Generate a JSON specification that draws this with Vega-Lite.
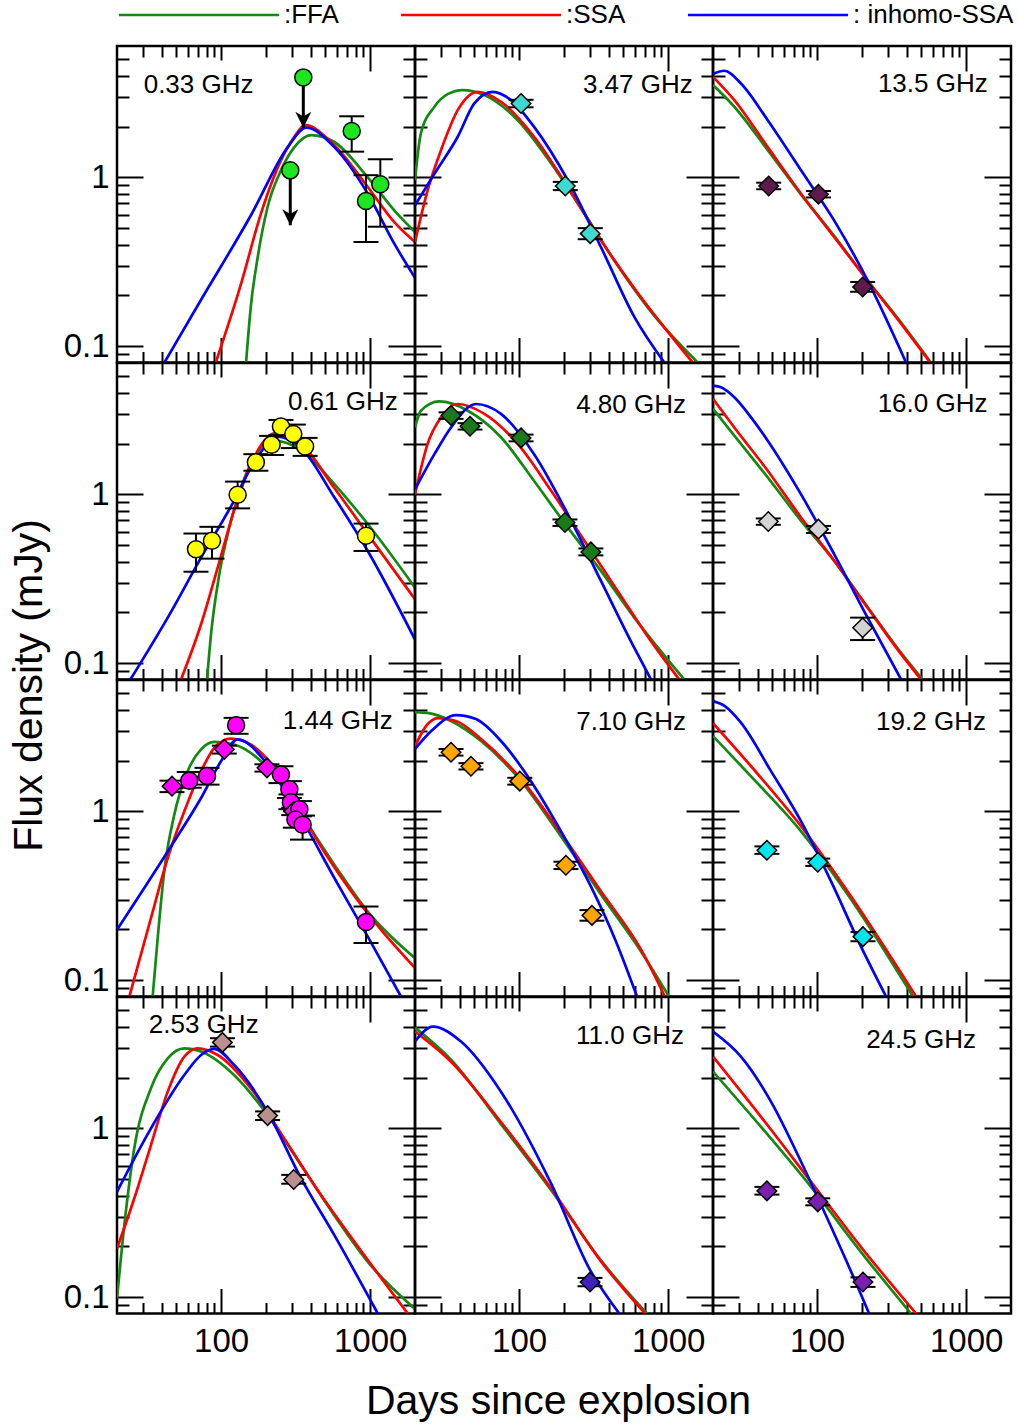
{
"$schema":"https://vega.github.io/schema/vega-lite/v6.json",
"background":"white",
"padding":{"left":6,"top":0,"right":0,"bottom":0},
"columns":3,
"spacing":0,
"bounds":"flush",
"config":{
 "view":{"stroke":"black","strokeWidth":2.5},
 "font":"Liberation Sans",
 "axis":{"domain":false,"grid":false,"ticks":true,"tickColor":"black","tickWidth":2,"labelFont":"Liberation Sans","labelFontSize":33,"labelColor":"black","labelFlush":false,"labelOverlap":false,"labelBound":false,"titleFont":"Liberation Sans","titleFontSize":41,"titleFontWeight":"normal","titleColor":"black"}
},
"datasets":{
"curves":[
{"p":"0.33","m":"FFA","t":147,"f":0.08},{"p":"0.33","m":"FFA","t":158,"f":0.17},{"p":"0.33","m":"FFA","t":176,"f":0.337},{"p":"0.33","m":"FFA","t":205,"f":0.667},{"p":"0.33","m":"FFA","t":252,"f":1.1},{"p":"0.33","m":"FFA","t":310,"f":1.51},{"p":"0.33","m":"FFA","t":401,"f":1.78},{"p":"0.33","m":"FFA","t":575,"f":1.62},{"p":"0.33","m":"FFA","t":964,"f":1.0},{"p":"0.33","m":"FFA","t":1452,"f":0.638},{"p":"0.33","m":"FFA","t":2000,"f":0.474},
{"p":"0.33","m":"SSA","t":92,"f":0.08},{"p":"0.33","m":"SSA","t":136,"f":0.234},{"p":"0.33","m":"SSA","t":185,"f":0.61},{"p":"0.33","m":"SSA","t":252,"f":1.26},{"p":"0.33","m":"SSA","t":310,"f":1.74},{"p":"0.33","m":"SSA","t":366,"f":2.04},{"p":"0.33","m":"SSA","t":575,"f":1.55},{"p":"0.33","m":"SSA","t":964,"f":0.877},{"p":"0.33","m":"SSA","t":1452,"f":0.543},{"p":"0.33","m":"SSA","t":2000,"f":0.414},
{"p":"0.33","m":"inhomo-SSA","t":41.6,"f":0.08},{"p":"0.33","m":"inhomo-SSA","t":73,"f":0.187},{"p":"0.33","m":"inhomo-SSA","t":158.5,"f":0.596},{"p":"0.33","m":"inhomo-SSA","t":280,"f":1.51},{"p":"0.33","m":"inhomo-SSA","t":371,"f":1.97},{"p":"0.33","m":"inhomo-SSA","t":575,"f":1.51},{"p":"0.33","m":"inhomo-SSA","t":964,"f":0.8},{"p":"0.33","m":"inhomo-SSA","t":1452,"f":0.405},{"p":"0.33","m":"inhomo-SSA","t":2000,"f":0.254},
{"p":"0.61","m":"FFA","t":80.4,"f":0.08},{"p":"0.61","m":"FFA","t":85.5,"f":0.148},{"p":"0.61","m":"FFA","t":97.2,"f":0.336},{"p":"0.61","m":"FFA","t":113.5,"f":0.636},{"p":"0.61","m":"FFA","t":136,"f":1.1},{"p":"0.61","m":"FFA","t":167,"f":1.66},{"p":"0.61","m":"FFA","t":222,"f":2.08},{"p":"0.61","m":"FFA","t":344,"f":1.83},{"p":"0.61","m":"FFA","t":575,"f":1.15},{"p":"0.61","m":"FFA","t":964,"f":0.667},{"p":"0.61","m":"FFA","t":2000,"f":0.28},
{"p":"0.61","m":"SSA","t":53.8,"f":0.08},{"p":"0.61","m":"SSA","t":73.3,"f":0.17},{"p":"0.61","m":"SSA","t":94.8,"f":0.368},{"p":"0.61","m":"SSA","t":122,"f":0.8},{"p":"0.61","m":"SSA","t":158.5,"f":1.51},{"p":"0.61","m":"SSA","t":195,"f":2.08},{"p":"0.61","m":"SSA","t":227,"f":2.3},{"p":"0.61","m":"SSA","t":344,"f":1.99},{"p":"0.61","m":"SSA","t":575,"f":1.09},{"p":"0.61","m":"SSA","t":964,"f":0.581},{"p":"0.61","m":"SSA","t":2000,"f":0.239},
{"p":"0.61","m":"inhomo-SSA","t":24.6,"f":0.08},{"p":"0.61","m":"inhomo-SSA","t":43.8,"f":0.186},{"p":"0.61","m":"inhomo-SSA","t":73.3,"f":0.422},{"p":"0.61","m":"inhomo-SSA","t":122,"f":0.916},{"p":"0.61","m":"inhomo-SSA","t":158.5,"f":1.44},{"p":"0.61","m":"inhomo-SSA","t":205,"f":1.99},{"p":"0.61","m":"inhomo-SSA","t":240,"f":2.2},{"p":"0.61","m":"inhomo-SSA","t":344,"f":1.88},{"p":"0.61","m":"inhomo-SSA","t":575,"f":0.96},{"p":"0.61","m":"inhomo-SSA","t":964,"f":0.462},{"p":"0.61","m":"inhomo-SSA","t":2000,"f":0.138},
{"p":"1.44","m":"FFA","t":34.7,"f":0.08},{"p":"1.44","m":"FFA","t":37.5,"f":0.177},{"p":"1.44","m":"FFA","t":41.5,"f":0.441},{"p":"1.44","m":"FFA","t":48.5,"f":0.957},{"p":"1.44","m":"FFA","t":59.6,"f":1.73},{"p":"1.44","m":"FFA","t":73.3,"f":2.33},{"p":"1.44","m":"FFA","t":90,"f":2.58},{"p":"1.44","m":"FFA","t":122,"f":2.49},{"p":"1.44","m":"FFA","t":205,"f":1.81},{"p":"1.44","m":"FFA","t":344,"f":0.957},{"p":"1.44","m":"FFA","t":575,"f":0.483},{"p":"1.44","m":"FFA","t":964,"f":0.255},{"p":"1.44","m":"FFA","t":2000,"f":0.135},
{"p":"1.44","m":"SSA","t":24.2,"f":0.08},{"p":"1.44","m":"SSA","t":33.8,"f":0.233},{"p":"1.44","m":"SSA","t":43.8,"f":0.529},{"p":"1.44","m":"SSA","t":56.6,"f":1.0},{"p":"1.44","m":"SSA","t":73.3,"f":1.73},{"p":"1.44","m":"SSA","t":90,"f":2.38},{"p":"1.44","m":"SSA","t":116,"f":2.7},{"p":"1.44","m":"SSA","t":158,"f":2.49},{"p":"1.44","m":"SSA","t":265,"f":1.51},{"p":"1.44","m":"SSA","t":445,"f":0.665},{"p":"1.44","m":"SSA","t":744,"f":0.336},{"p":"1.44","m":"SSA","t":2000,"f":0.118},
{"p":"1.44","m":"inhomo-SSA","t":20,"f":0.199},{"p":"1.44","m":"inhomo-SSA","t":43.8,"f":0.579},{"p":"1.44","m":"inhomo-SSA","t":73.3,"f":1.2},{"p":"1.44","m":"inhomo-SSA","t":99.8,"f":1.98},{"p":"1.44","m":"inhomo-SSA","t":129,"f":2.67},{"p":"1.44","m":"inhomo-SSA","t":205,"f":1.9},{"p":"1.44","m":"inhomo-SSA","t":344,"f":0.914},{"p":"1.44","m":"inhomo-SSA","t":575,"f":0.403},{"p":"1.44","m":"inhomo-SSA","t":964,"f":0.181},{"p":"1.44","m":"inhomo-SSA","t":1610,"f":0.08},
{"p":"2.53","m":"FFA","t":20,"f":0.098},{"p":"2.53","m":"FFA","t":22.4,"f":0.267},{"p":"2.53","m":"FFA","t":26.1,"f":0.76},{"p":"2.53","m":"FFA","t":33.8,"f":1.73},{"p":"2.53","m":"FFA","t":43.8,"f":2.6},{"p":"2.53","m":"FFA","t":56.6,"f":2.98},{"p":"2.53","m":"FFA","t":73.3,"f":2.85},{"p":"2.53","m":"FFA","t":122,"f":2.07},{"p":"2.53","m":"FFA","t":205,"f":1.2},{"p":"2.53","m":"FFA","t":344,"f":0.605},{"p":"2.53","m":"FFA","t":575,"f":0.305},{"p":"2.53","m":"FFA","t":964,"f":0.162},{"p":"2.53","m":"FFA","t":2000,"f":0.085},
{"p":"2.53","m":"SSA","t":20,"f":0.194},{"p":"2.53","m":"SSA","t":26.1,"f":0.384},{"p":"2.53","m":"SSA","t":33.8,"f":0.796},{"p":"2.53","m":"SSA","t":43.8,"f":1.65},{"p":"2.53","m":"SSA","t":56.6,"f":2.66},{"p":"2.53","m":"SSA","t":69.7,"f":2.98},{"p":"2.53","m":"SSA","t":94.8,"f":2.72},{"p":"2.53","m":"SSA","t":158,"f":1.73},{"p":"2.53","m":"SSA","t":265,"f":0.871},{"p":"2.53","m":"SSA","t":445,"f":0.43},{"p":"2.53","m":"SSA","t":744,"f":0.227},{"p":"2.53","m":"SSA","t":1787,"f":0.08},
{"p":"2.53","m":"inhomo-SSA","t":20,"f":0.421},{"p":"2.53","m":"inhomo-SSA","t":33.8,"f":1.0},{"p":"2.53","m":"inhomo-SSA","t":56.6,"f":2.07},{"p":"2.53","m":"inhomo-SSA","t":73.3,"f":2.72},{"p":"2.53","m":"inhomo-SSA","t":90,"f":2.96},{"p":"2.53","m":"inhomo-SSA","t":122,"f":2.38},{"p":"2.53","m":"inhomo-SSA","t":205,"f":1.25},{"p":"2.53","m":"inhomo-SSA","t":344,"f":0.505},{"p":"2.53","m":"inhomo-SSA","t":575,"f":0.233},{"p":"2.53","m":"inhomo-SSA","t":1125,"f":0.08},
{"p":"3.47","m":"FFA","t":20,"f":0.961},{"p":"3.47","m":"FFA","t":21.9,"f":1.82},{"p":"3.47","m":"FFA","t":27,"f":2.62},{"p":"3.47","m":"FFA","t":33.1,"f":3.11},{"p":"3.47","m":"FFA","t":41.8,"f":3.29},{"p":"3.47","m":"FFA","t":58.4,"f":3.07},{"p":"3.47","m":"FFA","t":97.8,"f":2.18},{"p":"3.47","m":"FFA","t":164,"f":1.21},{"p":"3.47","m":"FFA","t":274,"f":0.61},{"p":"3.47","m":"FFA","t":458,"f":0.3},{"p":"3.47","m":"FFA","t":767,"f":0.16},{"p":"3.47","m":"FFA","t":1578,"f":0.08},
{"p":"3.47","m":"SSA","t":20,"f":0.414},{"p":"3.47","m":"SSA","t":24.3,"f":0.838},{"p":"3.47","m":"SSA","t":29.9,"f":1.45},{"p":"3.47","m":"SSA","t":38.7,"f":2.5},{"p":"3.47","m":"SSA","t":52.7,"f":3.21},{"p":"3.47","m":"SSA","t":75.5,"f":2.8},{"p":"3.47","m":"SSA","t":126,"f":1.74},{"p":"3.47","m":"SSA","t":212,"f":0.877},{"p":"3.47","m":"SSA","t":354,"f":0.424},{"p":"3.47","m":"SSA","t":593,"f":0.22},{"p":"3.47","m":"SSA","t":1462,"f":0.08},
{"p":"3.47","m":"inhomo-SSA","t":20,"f":0.683},{"p":"3.47","m":"inhomo-SSA","t":27,"f":1.05},{"p":"3.47","m":"inhomo-SSA","t":38.7,"f":1.74},{"p":"3.47","m":"inhomo-SSA","t":50,"f":2.74},{"p":"3.47","m":"inhomo-SSA","t":66.4,"f":3.21},{"p":"3.47","m":"inhomo-SSA","t":88.1,"f":2.87},{"p":"3.47","m":"inhomo-SSA","t":126,"f":1.99},{"p":"3.47","m":"inhomo-SSA","t":212,"f":0.961},{"p":"3.47","m":"inhomo-SSA","t":354,"f":0.386},{"p":"3.47","m":"inhomo-SSA","t":593,"f":0.149},{"p":"3.47","m":"inhomo-SSA","t":942,"f":0.08},
{"p":"4.80","m":"FFA","t":20,"f":2.49},{"p":"4.80","m":"FFA","t":21.9,"f":3.13},{"p":"4.80","m":"FFA","t":29.1,"f":3.55},{"p":"4.80","m":"FFA","t":45.2,"f":3.13},{"p":"4.80","m":"FFA","t":75.5,"f":2.18},{"p":"4.80","m":"FFA","t":126,"f":1.2},{"p":"4.80","m":"FFA","t":212,"f":0.637},{"p":"4.80","m":"FFA","t":354,"f":0.352},{"p":"4.80","m":"FFA","t":593,"f":0.186},{"p":"4.80","m":"FFA","t":1282,"f":0.08},
{"p":"4.80","m":"SSA","t":20,"f":1.0},{"p":"4.80","m":"SSA","t":24.3,"f":1.99},{"p":"4.80","m":"SSA","t":29.9,"f":2.86},{"p":"4.80","m":"SSA","t":38.7,"f":3.43},{"p":"4.80","m":"SSA","t":58.4,"f":3.0},{"p":"4.80","m":"SSA","t":97.8,"f":1.99},{"p":"4.80","m":"SSA","t":164,"f":1.05},{"p":"4.80","m":"SSA","t":274,"f":0.531},{"p":"4.80","m":"SSA","t":458,"f":0.268},{"p":"4.80","m":"SSA","t":767,"f":0.135},{"p":"4.80","m":"SSA","t":1188,"f":0.08},
{"p":"4.80","m":"inhomo-SSA","t":20,"f":1.07},{"p":"4.80","m":"inhomo-SSA","t":27,"f":1.73},{"p":"4.80","m":"inhomo-SSA","t":34.9,"f":2.49},{"p":"4.80","m":"inhomo-SSA","t":51.3,"f":3.43},{"p":"4.80","m":"inhomo-SSA","t":75.5,"f":3.0},{"p":"4.80","m":"inhomo-SSA","t":126,"f":1.73},{"p":"4.80","m":"inhomo-SSA","t":212,"f":0.764},{"p":"4.80","m":"inhomo-SSA","t":354,"f":0.307},{"p":"4.80","m":"inhomo-SSA","t":593,"f":0.123},{"p":"4.80","m":"inhomo-SSA","t":767,"f":0.08},
{"p":"7.10","m":"FFA","t":20,"f":3.87},{"p":"7.10","m":"FFA","t":24.8,"f":3.82},{"p":"7.10","m":"FFA","t":34.9,"f":3.43},{"p":"7.10","m":"FFA","t":55.5,"f":2.61},{"p":"7.10","m":"FFA","t":103,"f":1.51},{"p":"7.10","m":"FFA","t":191,"f":0.711},{"p":"7.10","m":"FFA","t":354,"f":0.322},{"p":"7.10","m":"FFA","t":657,"f":0.148},{"p":"7.10","m":"FFA","t":1014,"f":0.08},
{"p":"7.10","m":"SSA","t":20,"f":2.43},{"p":"7.10","m":"SSA","t":23.7,"f":3.2},{"p":"7.10","m":"SSA","t":28.5,"f":3.57},{"p":"7.10","m":"SSA","t":37.7,"f":3.43},{"p":"7.10","m":"SSA","t":55.5,"f":2.68},{"p":"7.10","m":"SSA","t":103,"f":1.55},{"p":"7.10","m":"SSA","t":191,"f":0.741},{"p":"7.10","m":"SSA","t":354,"f":0.336},{"p":"7.10","m":"SSA","t":657,"f":0.152},{"p":"7.10","m":"SSA","t":950,"f":0.08},
{"p":"7.10","m":"inhomo-SSA","t":20,"f":2.34},{"p":"7.10","m":"inhomo-SSA","t":25.6,"f":2.98},{"p":"7.10","m":"inhomo-SSA","t":37.7,"f":3.72},{"p":"7.10","m":"inhomo-SSA","t":51.3,"f":3.52},{"p":"7.10","m":"inhomo-SSA","t":75.5,"f":2.61},{"p":"7.10","m":"inhomo-SSA","t":120,"f":1.51},{"p":"7.10","m":"inhomo-SSA","t":191,"f":0.762},{"p":"7.10","m":"inhomo-SSA","t":303,"f":0.359},{"p":"7.10","m":"inhomo-SSA","t":447,"f":0.169},{"p":"7.10","m":"inhomo-SSA","t":618,"f":0.08},
{"p":"11.0","m":"FFA","t":20,"f":3.95},{"p":"11.0","m":"FFA","t":34.9,"f":2.55},{"p":"11.0","m":"FFA","t":75.5,"f":1.06},{"p":"11.0","m":"FFA","t":164,"f":0.43},{"p":"11.0","m":"FFA","t":354,"f":0.165},{"p":"11.0","m":"FFA","t":720,"f":0.08},
{"p":"11.0","m":"SSA","t":20,"f":3.74},{"p":"11.0","m":"SSA","t":34.9,"f":2.48},{"p":"11.0","m":"SSA","t":75.5,"f":1.09},{"p":"11.0","m":"SSA","t":164,"f":0.44},{"p":"11.0","m":"SSA","t":354,"f":0.163},{"p":"11.0","m":"SSA","t":700,"f":0.08},
{"p":"11.0","m":"inhomo-SSA","t":20,"f":3.27},{"p":"11.0","m":"inhomo-SSA","t":26.4,"f":4.0},{"p":"11.0","m":"inhomo-SSA","t":40.7,"f":3.27},{"p":"11.0","m":"inhomo-SSA","t":75.5,"f":1.65},{"p":"11.0","m":"inhomo-SSA","t":164,"f":0.47},{"p":"11.0","m":"inhomo-SSA","t":299,"f":0.145},{"p":"11.0","m":"inhomo-SSA","t":470,"f":0.08},
{"p":"13.5","m":"FFA","t":20,"f":3.52},{"p":"13.5","m":"FFA","t":27.8,"f":2.62},{"p":"13.5","m":"FFA","t":46.6,"f":1.45},{"p":"13.5","m":"FFA","t":78,"f":0.79},{"p":"13.5","m":"FFA","t":130,"f":0.45},{"p":"13.5","m":"FFA","t":218,"f":0.245},{"p":"13.5","m":"FFA","t":366,"f":0.138},{"p":"13.5","m":"FFA","t":580,"f":0.08},
{"p":"13.5","m":"SSA","t":20,"f":3.94},{"p":"13.5","m":"SSA","t":27.8,"f":2.87},{"p":"13.5","m":"SSA","t":46.6,"f":1.51},{"p":"13.5","m":"SSA","t":78,"f":0.8},{"p":"13.5","m":"SSA","t":130,"f":0.443},{"p":"13.5","m":"SSA","t":218,"f":0.245},{"p":"13.5","m":"SSA","t":366,"f":0.136},{"p":"13.5","m":"SSA","t":574,"f":0.08},
{"p":"13.5","m":"inhomo-SSA","t":20,"f":4.09},{"p":"13.5","m":"inhomo-SSA","t":23.8,"f":4.28},{"p":"13.5","m":"inhomo-SSA","t":30.8,"f":3.6},{"p":"13.5","m":"inhomo-SSA","t":46.6,"f":2.18},{"p":"13.5","m":"inhomo-SSA","t":78,"f":1.1},{"p":"13.5","m":"inhomo-SSA","t":130,"f":0.556},{"p":"13.5","m":"inhomo-SSA","t":218,"f":0.245},{"p":"13.5","m":"inhomo-SSA","t":395,"f":0.08},
{"p":"16.0","m":"FFA","t":20,"f":3.21},{"p":"16.0","m":"FFA","t":27.8,"f":2.23},{"p":"16.0","m":"FFA","t":46.6,"f":1.26},{"p":"16.0","m":"FFA","t":78,"f":0.697},{"p":"16.0","m":"FFA","t":130,"f":0.404},{"p":"16.0","m":"FFA","t":218,"f":0.215},{"p":"16.0","m":"FFA","t":366,"f":0.115},{"p":"16.0","m":"FFA","t":510,"f":0.08},
{"p":"16.0","m":"SSA","t":20,"f":3.68},{"p":"16.0","m":"SSA","t":27.8,"f":2.49},{"p":"16.0","m":"SSA","t":46.6,"f":1.38},{"p":"16.0","m":"SSA","t":78,"f":0.729},{"p":"16.0","m":"SSA","t":130,"f":0.404},{"p":"16.0","m":"SSA","t":218,"f":0.213},{"p":"16.0","m":"SSA","t":366,"f":0.113},{"p":"16.0","m":"SSA","t":498,"f":0.08},
{"p":"16.0","m":"inhomo-SSA","t":20,"f":4.41},{"p":"16.0","m":"inhomo-SSA","t":22.6,"f":4.31},{"p":"16.0","m":"inhomo-SSA","t":27.8,"f":3.76},{"p":"16.0","m":"inhomo-SSA","t":36,"f":2.86},{"p":"16.0","m":"inhomo-SSA","t":46.6,"f":2.08},{"p":"16.0","m":"inhomo-SSA","t":78,"f":1.0},{"p":"16.0","m":"inhomo-SSA","t":130,"f":0.443},{"p":"16.0","m":"inhomo-SSA","t":218,"f":0.186},{"p":"16.0","m":"inhomo-SSA","t":366,"f":0.08},
{"p":"19.2","m":"FFA","t":20,"f":2.79},{"p":"19.2","m":"FFA","t":36,"f":1.61},{"p":"19.2","m":"FFA","t":78,"f":0.762},{"p":"19.2","m":"FFA","t":169,"f":0.301},{"p":"19.2","m":"FFA","t":440,"f":0.08},
{"p":"19.2","m":"SSA","t":20,"f":3.33},{"p":"19.2","m":"SSA","t":36,"f":1.85},{"p":"19.2","m":"SSA","t":78,"f":0.816},{"p":"19.2","m":"SSA","t":169,"f":0.313},{"p":"19.2","m":"SSA","t":461,"f":0.08},
{"p":"19.2","m":"inhomo-SSA","t":20,"f":4.5},{"p":"19.2","m":"inhomo-SSA","t":24,"f":4.2},{"p":"19.2","m":"inhomo-SSA","t":30.8,"f":3.35},{"p":"19.2","m":"inhomo-SSA","t":49,"f":1.73},{"p":"19.2","m":"inhomo-SSA","t":78,"f":0.873},{"p":"19.2","m":"inhomo-SSA","t":124,"f":0.385},{"p":"19.2","m":"inhomo-SSA","t":197,"f":0.158},{"p":"19.2","m":"inhomo-SSA","t":290,"f":0.08},
{"p":"24.5","m":"FFA","t":20,"f":2.17},{"p":"24.5","m":"FFA","t":42,"f":1.02},{"p":"24.5","m":"FFA","t":91,"f":0.45},{"p":"24.5","m":"FFA","t":197,"f":0.185},{"p":"24.5","m":"FFA","t":426,"f":0.08},
{"p":"24.5","m":"SSA","t":20,"f":2.66},{"p":"24.5","m":"SSA","t":42,"f":1.17},{"p":"24.5","m":"SSA","t":91,"f":0.482},{"p":"24.5","m":"SSA","t":197,"f":0.198},{"p":"24.5","m":"SSA","t":461,"f":0.08},
{"p":"24.5","m":"inhomo-SSA","t":20,"f":3.74},{"p":"24.5","m":"inhomo-SSA","t":30.8,"f":2.66},{"p":"24.5","m":"inhomo-SSA","t":49,"f":1.44},{"p":"24.5","m":"inhomo-SSA","t":78,"f":0.634},{"p":"24.5","m":"inhomo-SSA","t":124,"f":0.261},{"p":"24.5","m":"inhomo-SSA","t":194,"f":0.107},{"p":"24.5","m":"inhomo-SSA","t":223,"f":0.08}
],
"pts":[
{"p":"0.33","t":356,"f":3.91,"lo":null,"hi":null,"inst":"GMRT"},{"p":"0.33","t":291,"f":1.1,"lo":null,"hi":null,"inst":"GMRT"},{"p":"0.33","t":752,"f":1.88,"lo":1.42,"hi":2.3,"inst":"GMRT"},{"p":"0.33","t":938,"f":0.724,"lo":0.414,"hi":1.03,"inst":"GMRT"},{"p":"0.33","t":1170,"f":0.91,"lo":0.51,"hi":1.28,"inst":"GMRT"},
{"p":"0.61","t":67.8,"f":0.473,"lo":0.348,"hi":0.586,"inst":"GMRT"},{"p":"0.61","t":86.8,"f":0.531,"lo":0.416,"hi":0.642,"inst":"GMRT"},{"p":"0.61","t":129,"f":0.995,"lo":0.826,"hi":1.19,"inst":"GMRT"},{"p":"0.61","t":171,"f":1.55,"lo":1.38,"hi":1.73,"inst":"GMRT"},{"p":"0.61","t":218,"f":1.97,"lo":1.71,"hi":2.22,"inst":"GMRT"},{"p":"0.61","t":252,"f":2.52,"lo":2.25,"hi":2.76,"inst":"GMRT"},{"p":"0.61","t":305,"f":2.28,"lo":1.88,"hi":2.59,"inst":"GMRT"},{"p":"0.61","t":366,"f":1.92,"lo":1.69,"hi":2.16,"inst":"GMRT"},{"p":"0.61","t":938,"f":0.568,"lo":0.462,"hi":0.671,"inst":"GMRT"},
{"p":"1.44","t":46.8,"f":1.41,"lo":1.3,"hi":1.52,"inst":"VLA"},{"p":"1.44","t":61.1,"f":1.52,"lo":1.38,"hi":1.71,"inst":"GMRT"},{"p":"1.44","t":80.4,"f":1.62,"lo":1.44,"hi":1.81,"inst":"GMRT"},{"p":"1.44","t":105,"f":2.33,"lo":2.2,"hi":2.45,"inst":"VLA"},{"p":"1.44","t":126,"f":3.24,"lo":2.88,"hi":3.58,"inst":"GMRT"},{"p":"1.44","t":203,"f":1.81,"lo":1.72,"hi":1.9,"inst":"VLA"},{"p":"1.44","t":252,"f":1.65,"lo":1.47,"hi":1.85,"inst":"GMRT"},{"p":"1.44","t":287,"f":1.35,"lo":1.2,"hi":1.51,"inst":"GMRT"},{"p":"1.44","t":294,"f":1.13,"lo":1.03,"hi":1.26,"inst":"GMRT"},{"p":"1.44","t":307,"f":1.0,"lo":0.95,"hi":1.05,"inst":"VLA"},{"p":"1.44","t":335,"f":1.03,"lo":0.935,"hi":1.15,"inst":"GMRT"},{"p":"1.44","t":315,"f":0.894,"lo":0.8,"hi":1.0,"inst":"GMRT"},{"p":"1.44","t":352,"f":0.834,"lo":0.68,"hi":0.944,"inst":"GMRT"},{"p":"1.44","t":938,"f":0.221,"lo":0.166,"hi":0.273,"inst":"GMRT"},
{"p":"2.53","t":102,"f":3.23,"lo":3.05,"hi":3.42,"inst":"VLA"},{"p":"2.53","t":205,"f":1.19,"lo":1.12,"hi":1.26,"inst":"VLA"},{"p":"2.53","t":307,"f":0.498,"lo":0.47,"hi":0.53,"inst":"VLA"},
{"p":"3.47","t":103,"f":2.74,"lo":2.6,"hi":2.88,"inst":"VLA"},{"p":"3.47","t":204,"f":0.889,"lo":0.84,"hi":0.94,"inst":"VLA"},{"p":"3.47","t":300,"f":0.464,"lo":0.43,"hi":0.5,"inst":"VLA"},
{"p":"4.80","t":34.9,"f":2.93,"lo":2.8,"hi":3.06,"inst":"VLA"},{"p":"4.80","t":46.8,"f":2.53,"lo":2.42,"hi":2.64,"inst":"VLA"},{"p":"4.80","t":103,"f":2.16,"lo":2.06,"hi":2.26,"inst":"VLA"},{"p":"4.80","t":203,"f":0.681,"lo":0.65,"hi":0.71,"inst":"VLA"},{"p":"4.80","t":303,"f":0.456,"lo":0.435,"hi":0.478,"inst":"VLA"},
{"p":"7.10","t":34.9,"f":2.24,"lo":2.14,"hi":2.34,"inst":"VLA"},{"p":"7.10","t":47.5,"f":1.85,"lo":1.77,"hi":1.93,"inst":"VLA"},{"p":"7.10","t":101,"f":1.51,"lo":1.44,"hi":1.58,"inst":"VLA"},{"p":"7.10","t":206,"f":0.479,"lo":0.455,"hi":0.503,"inst":"VLA"},{"p":"7.10","t":308,"f":0.242,"lo":0.225,"hi":0.26,"inst":"VLA"},
{"p":"11.0","t":299,"f":0.123,"lo":0.116,"hi":0.13,"inst":"VLA"},
{"p":"13.5","t":47.3,"f":0.889,"lo":0.85,"hi":0.93,"inst":"VLA"},{"p":"13.5","t":102,"f":0.794,"lo":0.76,"hi":0.83,"inst":"VLA"},{"p":"13.5","t":202,"f":0.224,"lo":0.21,"hi":0.24,"inst":"VLA"},
{"p":"16.0","t":47,"f":0.69,"lo":0.66,"hi":0.72,"inst":"VLA"},{"p":"16.0","t":102,"f":0.622,"lo":0.59,"hi":0.65,"inst":"VLA"},{"p":"16.0","t":202,"f":0.162,"lo":0.137,"hi":0.186,"inst":"VLA"},
{"p":"19.2","t":46,"f":0.588,"lo":0.56,"hi":0.62,"inst":"VLA"},{"p":"19.2","t":101,"f":0.499,"lo":0.475,"hi":0.525,"inst":"VLA"},{"p":"19.2","t":203,"f":0.181,"lo":0.17,"hi":0.193,"inst":"VLA"},
{"p":"24.5","t":46,"f":0.426,"lo":0.405,"hi":0.45,"inst":"VLA"},{"p":"24.5","t":101,"f":0.367,"lo":0.35,"hi":0.385,"inst":"VLA"},{"p":"24.5","t":203,"f":0.123,"lo":0.115,"hi":0.131,"inst":"VLA"}
],
"lims":[{"p":"0.33","t":356,"f":3.91,"to":1.97},{"p":"0.33","t":291,"f":1.1,"to":0.52}]
},
"concat":[
{"width":298,"height":316.5,"resolve":{"axis":{"x":"independent","y":"independent"}},"layer":[
 {"layer":[
  {"data":{"name":"curves"},"transform":[{"filter":"datum.p=='0.33'"}],"mark":{"type":"line","clip":true,"interpolate":"monotone","strokeWidth":2.7},
   "encoding":{"x":{"field":"t","type":"quantitative","scale":{"type":"log","domain":[20,2000],"nice":false},"axis":{"orient":"bottom","values":[30,40,50,60,70,80,90,100,200,300,400,500,600,700,800,900,1000],"tickSize":{"condition":{"test":"datum.value==100||datum.value==1000","value":-25},"value":-11},"labels":false,"title":null}},
   "y":{"field":"f","type":"quantitative","scale":{"type":"log","domain":[0.08,6],"nice":false},"axis":{"orient":"left","values":[0.09,0.1,0.2,0.3,0.4,0.5,0.6,0.7,0.8,0.9,1,2,3,4,5],"tickSize":{"condition":{"test":"datum.value==0.1||datum.value==1","value":-26},"value":-12},"labels":true,"labelExpr":"datum.value==1?'1':datum.value==0.1?'0.1':''","labelPadding":34,"title":null}},
   "color":{"field":"m","type":"nominal","scale":{"domain":["FFA","SSA","inhomo-SSA"],"range":["#128a12","#ff0000","#0000ff"]},"legend":{"orient":"none","legendX":67,"legendY":-46,"direction":"horizontal","title":null,"symbolType":"M-5.93,0L5.93,0","symbolSize":729,"symbolStrokeWidth":2.7,"labelFontSize":26,"labelFont":"Liberation Sans","labelColor":"black","labelOffset":70,"columnPadding":56,"padding":0,"labelLimit":400,"labelExpr":"datum.label=='inhomo-SSA'?': inhomo-SSA':':'+datum.label"}}}},
  {"data":{"name":"lims"},"transform":[{"filter":"datum.p=='0.33'"}],"mark":{"type":"rule","color":"black","strokeWidth":3},
   "encoding":{"x":{"field":"t","type":"quantitative","scale":{"type":"log","domain":[20,2000],"nice":false}},"y":{"field":"f","type":"quantitative","scale":{"type":"log","domain":[0.08,6],"nice":false}},"y2":{"field":"to"}}},
  {"data":{"name":"lims"},"transform":[{"filter":"datum.p=='0.33'"}],"mark":{"type":"point","shape":"M0,1L-1,-1L0,-0.4L1,-1Z","size":256,"filled":true,"color":"black","opacity":1,"yOffset":-8},
   "encoding":{"x":{"field":"t","type":"quantitative","scale":{"type":"log","domain":[20,2000],"nice":false}},"y":{"field":"to","type":"quantitative","scale":{"type":"log","domain":[0.08,6],"nice":false}}}},
  {"data":{"name":"pts"},"transform":[{"filter":"datum.p=='0.33' && datum.lo!=null"}],"mark":{"type":"rule","color":"black","strokeWidth":2},
   "encoding":{"x":{"field":"t","type":"quantitative","scale":{"type":"log","domain":[20,2000],"nice":false}},"y":{"field":"lo","type":"quantitative","scale":{"type":"log","domain":[0.08,6],"nice":false}},"y2":{"field":"hi"}}},
  {"data":{"name":"pts"},"transform":[{"filter":"datum.p=='0.33' && datum.lo!=null"},{"fold":["lo","hi"],"as":["k","v"]}],"mark":{"type":"point","shape":"stroke","size":625,"stroke":"black","strokeWidth":2,"opacity":1},
   "encoding":{"x":{"field":"t","type":"quantitative","scale":{"type":"log","domain":[20,2000],"nice":false}},"y":{"field":"v","type":"quantitative","scale":{"type":"log","domain":[0.08,6],"nice":false}}}},
  {"data":{"name":"pts"},"transform":[{"filter":"datum.p=='0.33'"}],"mark":{"type":"point","filled":true,"fill":"#1ee61e","stroke":"black","strokeWidth":1.5,"opacity":1},
   "encoding":{"x":{"field":"t","type":"quantitative","scale":{"type":"log","domain":[20,2000],"nice":false}},"y":{"field":"f","type":"quantitative","scale":{"type":"log","domain":[0.08,6],"nice":false}},"shape":{"field":"inst","type":"nominal","scale":{"domain":["GMRT","VLA"],"range":["circle","diamond"]},"legend":null},"size":{"field":"inst","type":"ordinal","scale":{"domain":["GMRT","VLA"],"range":[290,380]},"legend":null}}},
  {"data":{"values":[{}]},"mark":{"type":"text","text":"0.33 GHz","align":"left","baseline":"alphabetic","fontSize":26,"color":"black"},
   "encoding":{"x":{"datum":30.2,"type":"quantitative","scale":{"type":"log","domain":[20,2000],"nice":false}},"y":{"datum":3.16,"type":"quantitative","scale":{"type":"log","domain":[0.08,6],"nice":false}}}}
 ]},
 {"data":{"values":[{}]},"mark":{"type":"point","opacity":0},"encoding":{"x":{"datum":100,"type":"quantitative","scale":{"type":"log","domain":[20,2000],"nice":false},"axis":{"orient":"top","values":[30,40,50,60,70,80,90,100,200,300,400,500,600,700,800,900,1000],"tickSize":{"condition":[{"test":"datum.value==1000","value":-25},{"test":"datum.value==100","value":-14}],"value":-11},"labels":false,"title":null}},"y":{"datum":1,"type":"quantitative","scale":{"type":"log","domain":[0.08,6],"nice":false},"axis":{"orient":"right","values":[0.09,0.1,0.2,0.3,0.4,0.5,0.6,0.7,0.8,0.9,1,2,3,4,5],"tickSize":{"condition":{"test":"datum.value==0.1||datum.value==1","value":-27},"value":-12},"labels":false,"title":null}}}}
]},
{"width":298,"height":316.5,"resolve":{"axis":{"x":"independent","y":"independent"}},"layer":[
 {"layer":[
  {"data":{"name":"curves"},"transform":[{"filter":"datum.p=='3.47'"}],"mark":{"type":"line","clip":true,"interpolate":"monotone","strokeWidth":2.7},
   "encoding":{"x":{"field":"t","type":"quantitative","scale":{"type":"log","domain":[20,2000],"nice":false},"axis":{"orient":"bottom","values":[30,40,50,60,70,80,90,100,200,300,400,500,600,700,800,900,1000],"tickSize":{"condition":{"test":"datum.value==100||datum.value==1000","value":-25},"value":-11},"labels":false,"title":null}},
   "y":{"field":"f","type":"quantitative","scale":{"type":"log","domain":[0.08,6],"nice":false},"axis":{"orient":"left","values":[0.09,0.1,0.2,0.3,0.4,0.5,0.6,0.7,0.8,0.9,1,2,3,4,5],"tickSize":{"condition":{"test":"datum.value==0.1||datum.value==1","value":-26},"value":-12},"labels":false,"title":null}},
   "color":{"field":"m","type":"nominal","scale":{"domain":["FFA","SSA","inhomo-SSA"],"range":["#128a12","#ff0000","#0000ff"]}}}},
  {"data":{"name":"pts"},"transform":[{"filter":"datum.p=='3.47' && datum.lo!=null"}],"mark":{"type":"rule","color":"black","strokeWidth":2},
   "encoding":{"x":{"field":"t","type":"quantitative","scale":{"type":"log","domain":[20,2000],"nice":false}},"y":{"field":"lo","type":"quantitative","scale":{"type":"log","domain":[0.08,6],"nice":false}},"y2":{"field":"hi"}}},
  {"data":{"name":"pts"},"transform":[{"filter":"datum.p=='3.47' && datum.lo!=null"},{"fold":["lo","hi"],"as":["k","v"]}],"mark":{"type":"point","shape":"stroke","size":625,"stroke":"black","strokeWidth":2,"opacity":1},
   "encoding":{"x":{"field":"t","type":"quantitative","scale":{"type":"log","domain":[20,2000],"nice":false}},"y":{"field":"v","type":"quantitative","scale":{"type":"log","domain":[0.08,6],"nice":false}}}},
  {"data":{"name":"pts"},"transform":[{"filter":"datum.p=='3.47'"}],"mark":{"type":"point","filled":true,"fill":"#40d8d0","stroke":"black","strokeWidth":1.5,"opacity":1},
   "encoding":{"x":{"field":"t","type":"quantitative","scale":{"type":"log","domain":[20,2000],"nice":false}},"y":{"field":"f","type":"quantitative","scale":{"type":"log","domain":[0.08,6],"nice":false}},"shape":{"field":"inst","type":"nominal","scale":{"domain":["GMRT","VLA"],"range":["circle","diamond"]},"legend":null},"size":{"field":"inst","type":"ordinal","scale":{"domain":["GMRT","VLA"],"range":[290,380]},"legend":null}}},
  {"data":{"values":[{}]},"mark":{"type":"text","text":"3.47 GHz","align":"right","baseline":"alphabetic","fontSize":26,"color":"black"},
   "encoding":{"x":{"datum":1462,"type":"quantitative","scale":{"type":"log","domain":[20,2000],"nice":false}},"y":{"datum":3.16,"type":"quantitative","scale":{"type":"log","domain":[0.08,6],"nice":false}}}}
 ]},
 {"data":{"values":[{}]},"mark":{"type":"point","opacity":0},"encoding":{"x":{"datum":100,"type":"quantitative","scale":{"type":"log","domain":[20,2000],"nice":false},"axis":{"orient":"top","values":[30,40,50,60,70,80,90,100,200,300,400,500,600,700,800,900,1000],"tickSize":{"condition":[{"test":"datum.value==1000","value":-25},{"test":"datum.value==100","value":-14}],"value":-11},"labels":false,"title":null}},"y":{"datum":1,"type":"quantitative","scale":{"type":"log","domain":[0.08,6],"nice":false},"axis":{"orient":"right","values":[0.09,0.1,0.2,0.3,0.4,0.5,0.6,0.7,0.8,0.9,1,2,3,4,5],"tickSize":{"condition":{"test":"datum.value==0.1||datum.value==1","value":-27},"value":-12},"labels":false,"title":null}}}}
]},
{"width":298,"height":316.5,"resolve":{"axis":{"x":"independent","y":"independent"}},"layer":[
 {"layer":[
  {"data":{"name":"curves"},"transform":[{"filter":"datum.p=='13.5'"}],"mark":{"type":"line","clip":true,"interpolate":"monotone","strokeWidth":2.7},
   "encoding":{"x":{"field":"t","type":"quantitative","scale":{"type":"log","domain":[20,2000],"nice":false},"axis":{"orient":"bottom","values":[30,40,50,60,70,80,90,100,200,300,400,500,600,700,800,900,1000],"tickSize":{"condition":{"test":"datum.value==100||datum.value==1000","value":-25},"value":-11},"labels":false,"title":null}},
   "y":{"field":"f","type":"quantitative","scale":{"type":"log","domain":[0.08,6],"nice":false},"axis":{"orient":"left","values":[0.09,0.1,0.2,0.3,0.4,0.5,0.6,0.7,0.8,0.9,1,2,3,4,5],"tickSize":{"condition":{"test":"datum.value==0.1||datum.value==1","value":-26},"value":-12},"labels":false,"title":null}},
   "color":{"field":"m","type":"nominal","scale":{"domain":["FFA","SSA","inhomo-SSA"],"range":["#128a12","#ff0000","#0000ff"]}}}},
  {"data":{"name":"pts"},"transform":[{"filter":"datum.p=='13.5' && datum.lo!=null"}],"mark":{"type":"rule","color":"black","strokeWidth":2},
   "encoding":{"x":{"field":"t","type":"quantitative","scale":{"type":"log","domain":[20,2000],"nice":false}},"y":{"field":"lo","type":"quantitative","scale":{"type":"log","domain":[0.08,6],"nice":false}},"y2":{"field":"hi"}}},
  {"data":{"name":"pts"},"transform":[{"filter":"datum.p=='13.5' && datum.lo!=null"},{"fold":["lo","hi"],"as":["k","v"]}],"mark":{"type":"point","shape":"stroke","size":625,"stroke":"black","strokeWidth":2,"opacity":1},
   "encoding":{"x":{"field":"t","type":"quantitative","scale":{"type":"log","domain":[20,2000],"nice":false}},"y":{"field":"v","type":"quantitative","scale":{"type":"log","domain":[0.08,6],"nice":false}}}},
  {"data":{"name":"pts"},"transform":[{"filter":"datum.p=='13.5'"}],"mark":{"type":"point","filled":true,"fill":"#5e1a4a","stroke":"black","strokeWidth":1.5,"opacity":1},
   "encoding":{"x":{"field":"t","type":"quantitative","scale":{"type":"log","domain":[20,2000],"nice":false}},"y":{"field":"f","type":"quantitative","scale":{"type":"log","domain":[0.08,6],"nice":false}},"shape":{"field":"inst","type":"nominal","scale":{"domain":["GMRT","VLA"],"range":["circle","diamond"]},"legend":null},"size":{"field":"inst","type":"ordinal","scale":{"domain":["GMRT","VLA"],"range":[290,380]},"legend":null}}},
  {"data":{"values":[{}]},"mark":{"type":"text","text":"13.5 GHz","align":"right","baseline":"alphabetic","fontSize":26,"color":"black"},
   "encoding":{"x":{"datum":1396,"type":"quantitative","scale":{"type":"log","domain":[20,2000],"nice":false}},"y":{"datum":3.21,"type":"quantitative","scale":{"type":"log","domain":[0.08,6],"nice":false}}}}
 ]},
 {"data":{"values":[{}]},"mark":{"type":"point","opacity":0},"encoding":{"x":{"datum":100,"type":"quantitative","scale":{"type":"log","domain":[20,2000],"nice":false},"axis":{"orient":"top","values":[30,40,50,60,70,80,90,100,200,300,400,500,600,700,800,900,1000],"tickSize":{"condition":[{"test":"datum.value==1000","value":-25},{"test":"datum.value==100","value":-14}],"value":-11},"labels":false,"title":null}},"y":{"datum":1,"type":"quantitative","scale":{"type":"log","domain":[0.08,6],"nice":false},"axis":{"orient":"right","values":[0.09,0.1,0.2,0.3,0.4,0.5,0.6,0.7,0.8,0.9,1,2,3,4,5],"tickSize":{"condition":{"test":"datum.value==0.1||datum.value==1","value":-27},"value":-12},"labels":false,"title":null}}}}
]},
{"width":298,"height":316.5,"resolve":{"axis":{"x":"independent","y":"independent"}},"layer":[
 {"layer":[
  {"data":{"name":"curves"},"transform":[{"filter":"datum.p=='0.61'"}],"mark":{"type":"line","clip":true,"interpolate":"monotone","strokeWidth":2.7},
   "encoding":{"x":{"field":"t","type":"quantitative","scale":{"type":"log","domain":[20,2000],"nice":false},"axis":{"orient":"bottom","values":[30,40,50,60,70,80,90,100,200,300,400,500,600,700,800,900,1000],"tickSize":{"condition":{"test":"datum.value==100||datum.value==1000","value":-25},"value":-11},"labels":false,"title":null}},
   "y":{"field":"f","type":"quantitative","scale":{"type":"log","domain":[0.08,6],"nice":false},"axis":{"orient":"left","values":[0.09,0.1,0.2,0.3,0.4,0.5,0.6,0.7,0.8,0.9,1,2,3,4,5],"tickSize":{"condition":{"test":"datum.value==0.1||datum.value==1","value":-26},"value":-12},"labels":true,"labelExpr":"datum.value==1?'1':datum.value==0.1?'0.1':''","labelPadding":34,"title":"Flux density (mJy)","titleX":-76,"titleY":322,"titleAngle":-90,"titleAlign":"center","titleBaseline":"alphabetic"}},
   "color":{"field":"m","type":"nominal","scale":{"domain":["FFA","SSA","inhomo-SSA"],"range":["#128a12","#ff0000","#0000ff"]}}}},
  {"data":{"name":"pts"},"transform":[{"filter":"datum.p=='0.61' && datum.lo!=null"}],"mark":{"type":"rule","color":"black","strokeWidth":2},
   "encoding":{"x":{"field":"t","type":"quantitative","scale":{"type":"log","domain":[20,2000],"nice":false}},"y":{"field":"lo","type":"quantitative","scale":{"type":"log","domain":[0.08,6],"nice":false}},"y2":{"field":"hi"}}},
  {"data":{"name":"pts"},"transform":[{"filter":"datum.p=='0.61' && datum.lo!=null"},{"fold":["lo","hi"],"as":["k","v"]}],"mark":{"type":"point","shape":"stroke","size":625,"stroke":"black","strokeWidth":2,"opacity":1},
   "encoding":{"x":{"field":"t","type":"quantitative","scale":{"type":"log","domain":[20,2000],"nice":false}},"y":{"field":"v","type":"quantitative","scale":{"type":"log","domain":[0.08,6],"nice":false}}}},
  {"data":{"name":"pts"},"transform":[{"filter":"datum.p=='0.61'"}],"mark":{"type":"point","filled":true,"fill":"#ffff00","stroke":"black","strokeWidth":1.5,"opacity":1},
   "encoding":{"x":{"field":"t","type":"quantitative","scale":{"type":"log","domain":[20,2000],"nice":false}},"y":{"field":"f","type":"quantitative","scale":{"type":"log","domain":[0.08,6],"nice":false}},"shape":{"field":"inst","type":"nominal","scale":{"domain":["GMRT","VLA"],"range":["circle","diamond"]},"legend":null},"size":{"field":"inst","type":"ordinal","scale":{"domain":["GMRT","VLA"],"range":[290,380]},"legend":null}}},
  {"data":{"values":[{}]},"mark":{"type":"text","text":"0.61 GHz","align":"right","baseline":"alphabetic","fontSize":26,"color":"black"},
   "encoding":{"x":{"datum":1531,"type":"quantitative","scale":{"type":"log","domain":[20,2000],"nice":false}},"y":{"datum":3.16,"type":"quantitative","scale":{"type":"log","domain":[0.08,6],"nice":false}}}}
 ]},
 {"data":{"values":[{}]},"mark":{"type":"point","opacity":0},"encoding":{"x":{"datum":100,"type":"quantitative","scale":{"type":"log","domain":[20,2000],"nice":false},"axis":{"orient":"top","values":[30,40,50,60,70,80,90,100,200,300,400,500,600,700,800,900,1000],"tickSize":{"condition":[{"test":"datum.value==1000","value":-25},{"test":"datum.value==100","value":-14}],"value":-11},"labels":false,"title":null}},"y":{"datum":1,"type":"quantitative","scale":{"type":"log","domain":[0.08,6],"nice":false},"axis":{"orient":"right","values":[0.09,0.1,0.2,0.3,0.4,0.5,0.6,0.7,0.8,0.9,1,2,3,4,5],"tickSize":{"condition":{"test":"datum.value==0.1||datum.value==1","value":-27},"value":-12},"labels":false,"title":null}}}}
]},
{"width":298,"height":316.5,"resolve":{"axis":{"x":"independent","y":"independent"}},"layer":[
 {"layer":[
  {"data":{"name":"curves"},"transform":[{"filter":"datum.p=='4.80'"}],"mark":{"type":"line","clip":true,"interpolate":"monotone","strokeWidth":2.7},
   "encoding":{"x":{"field":"t","type":"quantitative","scale":{"type":"log","domain":[20,2000],"nice":false},"axis":{"orient":"bottom","values":[30,40,50,60,70,80,90,100,200,300,400,500,600,700,800,900,1000],"tickSize":{"condition":{"test":"datum.value==100||datum.value==1000","value":-25},"value":-11},"labels":false,"title":null}},
   "y":{"field":"f","type":"quantitative","scale":{"type":"log","domain":[0.08,6],"nice":false},"axis":{"orient":"left","values":[0.09,0.1,0.2,0.3,0.4,0.5,0.6,0.7,0.8,0.9,1,2,3,4,5],"tickSize":{"condition":{"test":"datum.value==0.1||datum.value==1","value":-26},"value":-12},"labels":false,"title":null}},
   "color":{"field":"m","type":"nominal","scale":{"domain":["FFA","SSA","inhomo-SSA"],"range":["#128a12","#ff0000","#0000ff"]}}}},
  {"data":{"name":"pts"},"transform":[{"filter":"datum.p=='4.80' && datum.lo!=null"}],"mark":{"type":"rule","color":"black","strokeWidth":2},
   "encoding":{"x":{"field":"t","type":"quantitative","scale":{"type":"log","domain":[20,2000],"nice":false}},"y":{"field":"lo","type":"quantitative","scale":{"type":"log","domain":[0.08,6],"nice":false}},"y2":{"field":"hi"}}},
  {"data":{"name":"pts"},"transform":[{"filter":"datum.p=='4.80' && datum.lo!=null"},{"fold":["lo","hi"],"as":["k","v"]}],"mark":{"type":"point","shape":"stroke","size":625,"stroke":"black","strokeWidth":2,"opacity":1},
   "encoding":{"x":{"field":"t","type":"quantitative","scale":{"type":"log","domain":[20,2000],"nice":false}},"y":{"field":"v","type":"quantitative","scale":{"type":"log","domain":[0.08,6],"nice":false}}}},
  {"data":{"name":"pts"},"transform":[{"filter":"datum.p=='4.80'"}],"mark":{"type":"point","filled":true,"fill":"#1a7a1a","stroke":"black","strokeWidth":1.5,"opacity":1},
   "encoding":{"x":{"field":"t","type":"quantitative","scale":{"type":"log","domain":[20,2000],"nice":false}},"y":{"field":"f","type":"quantitative","scale":{"type":"log","domain":[0.08,6],"nice":false}},"shape":{"field":"inst","type":"nominal","scale":{"domain":["GMRT","VLA"],"range":["circle","diamond"]},"legend":null},"size":{"field":"inst","type":"ordinal","scale":{"domain":["GMRT","VLA"],"range":[290,380]},"legend":null}}},
  {"data":{"values":[{}]},"mark":{"type":"text","text":"4.80 GHz","align":"right","baseline":"alphabetic","fontSize":26,"color":"black"},
   "encoding":{"x":{"datum":1318,"type":"quantitative","scale":{"type":"log","domain":[20,2000],"nice":false}},"y":{"datum":3.02,"type":"quantitative","scale":{"type":"log","domain":[0.08,6],"nice":false}}}}
 ]},
 {"data":{"values":[{}]},"mark":{"type":"point","opacity":0},"encoding":{"x":{"datum":100,"type":"quantitative","scale":{"type":"log","domain":[20,2000],"nice":false},"axis":{"orient":"top","values":[30,40,50,60,70,80,90,100,200,300,400,500,600,700,800,900,1000],"tickSize":{"condition":[{"test":"datum.value==1000","value":-25},{"test":"datum.value==100","value":-14}],"value":-11},"labels":false,"title":null}},"y":{"datum":1,"type":"quantitative","scale":{"type":"log","domain":[0.08,6],"nice":false},"axis":{"orient":"right","values":[0.09,0.1,0.2,0.3,0.4,0.5,0.6,0.7,0.8,0.9,1,2,3,4,5],"tickSize":{"condition":{"test":"datum.value==0.1||datum.value==1","value":-27},"value":-12},"labels":false,"title":null}}}}
]},
{"width":298,"height":316.5,"resolve":{"axis":{"x":"independent","y":"independent"}},"layer":[
 {"layer":[
  {"data":{"name":"curves"},"transform":[{"filter":"datum.p=='16.0'"}],"mark":{"type":"line","clip":true,"interpolate":"monotone","strokeWidth":2.7},
   "encoding":{"x":{"field":"t","type":"quantitative","scale":{"type":"log","domain":[20,2000],"nice":false},"axis":{"orient":"bottom","values":[30,40,50,60,70,80,90,100,200,300,400,500,600,700,800,900,1000],"tickSize":{"condition":{"test":"datum.value==100||datum.value==1000","value":-25},"value":-11},"labels":false,"title":null}},
   "y":{"field":"f","type":"quantitative","scale":{"type":"log","domain":[0.08,6],"nice":false},"axis":{"orient":"left","values":[0.09,0.1,0.2,0.3,0.4,0.5,0.6,0.7,0.8,0.9,1,2,3,4,5],"tickSize":{"condition":{"test":"datum.value==0.1||datum.value==1","value":-26},"value":-12},"labels":false,"title":null}},
   "color":{"field":"m","type":"nominal","scale":{"domain":["FFA","SSA","inhomo-SSA"],"range":["#128a12","#ff0000","#0000ff"]}}}},
  {"data":{"name":"pts"},"transform":[{"filter":"datum.p=='16.0' && datum.lo!=null"}],"mark":{"type":"rule","color":"black","strokeWidth":2},
   "encoding":{"x":{"field":"t","type":"quantitative","scale":{"type":"log","domain":[20,2000],"nice":false}},"y":{"field":"lo","type":"quantitative","scale":{"type":"log","domain":[0.08,6],"nice":false}},"y2":{"field":"hi"}}},
  {"data":{"name":"pts"},"transform":[{"filter":"datum.p=='16.0' && datum.lo!=null"},{"fold":["lo","hi"],"as":["k","v"]}],"mark":{"type":"point","shape":"stroke","size":625,"stroke":"black","strokeWidth":2,"opacity":1},
   "encoding":{"x":{"field":"t","type":"quantitative","scale":{"type":"log","domain":[20,2000],"nice":false}},"y":{"field":"v","type":"quantitative","scale":{"type":"log","domain":[0.08,6],"nice":false}}}},
  {"data":{"name":"pts"},"transform":[{"filter":"datum.p=='16.0'"}],"mark":{"type":"point","filled":true,"fill":"#d3d3d3","stroke":"black","strokeWidth":1.5,"opacity":1},
   "encoding":{"x":{"field":"t","type":"quantitative","scale":{"type":"log","domain":[20,2000],"nice":false}},"y":{"field":"f","type":"quantitative","scale":{"type":"log","domain":[0.08,6],"nice":false}},"shape":{"field":"inst","type":"nominal","scale":{"domain":["GMRT","VLA"],"range":["circle","diamond"]},"legend":null},"size":{"field":"inst","type":"ordinal","scale":{"domain":["GMRT","VLA"],"range":[290,380]},"legend":null}}},
  {"data":{"values":[{}]},"mark":{"type":"text","text":"16.0 GHz","align":"right","baseline":"alphabetic","fontSize":26,"color":"black"},
   "encoding":{"x":{"datum":1390,"type":"quantitative","scale":{"type":"log","domain":[20,2000],"nice":false}},"y":{"datum":3.06,"type":"quantitative","scale":{"type":"log","domain":[0.08,6],"nice":false}}}}
 ]},
 {"data":{"values":[{}]},"mark":{"type":"point","opacity":0},"encoding":{"x":{"datum":100,"type":"quantitative","scale":{"type":"log","domain":[20,2000],"nice":false},"axis":{"orient":"top","values":[30,40,50,60,70,80,90,100,200,300,400,500,600,700,800,900,1000],"tickSize":{"condition":[{"test":"datum.value==1000","value":-25},{"test":"datum.value==100","value":-14}],"value":-11},"labels":false,"title":null}},"y":{"datum":1,"type":"quantitative","scale":{"type":"log","domain":[0.08,6],"nice":false},"axis":{"orient":"right","values":[0.09,0.1,0.2,0.3,0.4,0.5,0.6,0.7,0.8,0.9,1,2,3,4,5],"tickSize":{"condition":{"test":"datum.value==0.1||datum.value==1","value":-27},"value":-12},"labels":false,"title":null}}}}
]},
{"width":298,"height":316.5,"resolve":{"axis":{"x":"independent","y":"independent"}},"layer":[
 {"layer":[
  {"data":{"name":"curves"},"transform":[{"filter":"datum.p=='1.44'"}],"mark":{"type":"line","clip":true,"interpolate":"monotone","strokeWidth":2.7},
   "encoding":{"x":{"field":"t","type":"quantitative","scale":{"type":"log","domain":[20,2000],"nice":false},"axis":{"orient":"bottom","values":[30,40,50,60,70,80,90,100,200,300,400,500,600,700,800,900,1000],"tickSize":{"condition":{"test":"datum.value==100||datum.value==1000","value":-25},"value":-11},"labels":false,"title":null}},
   "y":{"field":"f","type":"quantitative","scale":{"type":"log","domain":[0.08,6],"nice":false},"axis":{"orient":"left","values":[0.09,0.1,0.2,0.3,0.4,0.5,0.6,0.7,0.8,0.9,1,2,3,4,5],"tickSize":{"condition":{"test":"datum.value==0.1||datum.value==1","value":-26},"value":-12},"labels":true,"labelExpr":"datum.value==1?'1':datum.value==0.1?'0.1':''","labelPadding":34,"title":null}},
   "color":{"field":"m","type":"nominal","scale":{"domain":["FFA","SSA","inhomo-SSA"],"range":["#128a12","#ff0000","#0000ff"]}}}},
  {"data":{"name":"pts"},"transform":[{"filter":"datum.p=='1.44' && datum.lo!=null"}],"mark":{"type":"rule","color":"black","strokeWidth":2},
   "encoding":{"x":{"field":"t","type":"quantitative","scale":{"type":"log","domain":[20,2000],"nice":false}},"y":{"field":"lo","type":"quantitative","scale":{"type":"log","domain":[0.08,6],"nice":false}},"y2":{"field":"hi"}}},
  {"data":{"name":"pts"},"transform":[{"filter":"datum.p=='1.44' && datum.lo!=null"},{"fold":["lo","hi"],"as":["k","v"]}],"mark":{"type":"point","shape":"stroke","size":625,"stroke":"black","strokeWidth":2,"opacity":1},
   "encoding":{"x":{"field":"t","type":"quantitative","scale":{"type":"log","domain":[20,2000],"nice":false}},"y":{"field":"v","type":"quantitative","scale":{"type":"log","domain":[0.08,6],"nice":false}}}},
  {"data":{"name":"pts"},"transform":[{"filter":"datum.p=='1.44'"}],"mark":{"type":"point","filled":true,"fill":"#ff00ff","stroke":"black","strokeWidth":1.5,"opacity":1},
   "encoding":{"x":{"field":"t","type":"quantitative","scale":{"type":"log","domain":[20,2000],"nice":false}},"y":{"field":"f","type":"quantitative","scale":{"type":"log","domain":[0.08,6],"nice":false}},"shape":{"field":"inst","type":"nominal","scale":{"domain":["GMRT","VLA"],"range":["circle","diamond"]},"legend":null},"size":{"field":"inst","type":"ordinal","scale":{"domain":["GMRT","VLA"],"range":[290,380]},"legend":null}}},
  {"data":{"values":[{}]},"mark":{"type":"text","text":"1.44 GHz","align":"right","baseline":"alphabetic","fontSize":26,"color":"black"},
   "encoding":{"x":{"datum":1416,"type":"quantitative","scale":{"type":"log","domain":[20,2000],"nice":false}},"y":{"datum":3.06,"type":"quantitative","scale":{"type":"log","domain":[0.08,6],"nice":false}}}}
 ]},
 {"data":{"values":[{}]},"mark":{"type":"point","opacity":0},"encoding":{"x":{"datum":100,"type":"quantitative","scale":{"type":"log","domain":[20,2000],"nice":false},"axis":{"orient":"top","values":[30,40,50,60,70,80,90,100,200,300,400,500,600,700,800,900,1000],"tickSize":{"condition":[{"test":"datum.value==1000","value":-25},{"test":"datum.value==100","value":-14}],"value":-11},"labels":false,"title":null}},"y":{"datum":1,"type":"quantitative","scale":{"type":"log","domain":[0.08,6],"nice":false},"axis":{"orient":"right","values":[0.09,0.1,0.2,0.3,0.4,0.5,0.6,0.7,0.8,0.9,1,2,3,4,5],"tickSize":{"condition":{"test":"datum.value==0.1||datum.value==1","value":-27},"value":-12},"labels":false,"title":null}}}}
]},
{"width":298,"height":316.5,"resolve":{"axis":{"x":"independent","y":"independent"}},"layer":[
 {"layer":[
  {"data":{"name":"curves"},"transform":[{"filter":"datum.p=='7.10'"}],"mark":{"type":"line","clip":true,"interpolate":"monotone","strokeWidth":2.7},
   "encoding":{"x":{"field":"t","type":"quantitative","scale":{"type":"log","domain":[20,2000],"nice":false},"axis":{"orient":"bottom","values":[30,40,50,60,70,80,90,100,200,300,400,500,600,700,800,900,1000],"tickSize":{"condition":{"test":"datum.value==100||datum.value==1000","value":-25},"value":-11},"labels":false,"title":null}},
   "y":{"field":"f","type":"quantitative","scale":{"type":"log","domain":[0.08,6],"nice":false},"axis":{"orient":"left","values":[0.09,0.1,0.2,0.3,0.4,0.5,0.6,0.7,0.8,0.9,1,2,3,4,5],"tickSize":{"condition":{"test":"datum.value==0.1||datum.value==1","value":-26},"value":-12},"labels":false,"title":null}},
   "color":{"field":"m","type":"nominal","scale":{"domain":["FFA","SSA","inhomo-SSA"],"range":["#128a12","#ff0000","#0000ff"]}}}},
  {"data":{"name":"pts"},"transform":[{"filter":"datum.p=='7.10' && datum.lo!=null"}],"mark":{"type":"rule","color":"black","strokeWidth":2},
   "encoding":{"x":{"field":"t","type":"quantitative","scale":{"type":"log","domain":[20,2000],"nice":false}},"y":{"field":"lo","type":"quantitative","scale":{"type":"log","domain":[0.08,6],"nice":false}},"y2":{"field":"hi"}}},
  {"data":{"name":"pts"},"transform":[{"filter":"datum.p=='7.10' && datum.lo!=null"},{"fold":["lo","hi"],"as":["k","v"]}],"mark":{"type":"point","shape":"stroke","size":625,"stroke":"black","strokeWidth":2,"opacity":1},
   "encoding":{"x":{"field":"t","type":"quantitative","scale":{"type":"log","domain":[20,2000],"nice":false}},"y":{"field":"v","type":"quantitative","scale":{"type":"log","domain":[0.08,6],"nice":false}}}},
  {"data":{"name":"pts"},"transform":[{"filter":"datum.p=='7.10'"}],"mark":{"type":"point","filled":true,"fill":"#ffa500","stroke":"black","strokeWidth":1.5,"opacity":1},
   "encoding":{"x":{"field":"t","type":"quantitative","scale":{"type":"log","domain":[20,2000],"nice":false}},"y":{"field":"f","type":"quantitative","scale":{"type":"log","domain":[0.08,6],"nice":false}},"shape":{"field":"inst","type":"nominal","scale":{"domain":["GMRT","VLA"],"range":["circle","diamond"]},"legend":null},"size":{"field":"inst","type":"ordinal","scale":{"domain":["GMRT","VLA"],"range":[290,380]},"legend":null}}},
  {"data":{"values":[{}]},"mark":{"type":"text","text":"7.10 GHz","align":"right","baseline":"alphabetic","fontSize":26,"color":"black"},
   "encoding":{"x":{"datum":1318,"type":"quantitative","scale":{"type":"log","domain":[20,2000],"nice":false}},"y":{"datum":3.03,"type":"quantitative","scale":{"type":"log","domain":[0.08,6],"nice":false}}}}
 ]},
 {"data":{"values":[{}]},"mark":{"type":"point","opacity":0},"encoding":{"x":{"datum":100,"type":"quantitative","scale":{"type":"log","domain":[20,2000],"nice":false},"axis":{"orient":"top","values":[30,40,50,60,70,80,90,100,200,300,400,500,600,700,800,900,1000],"tickSize":{"condition":[{"test":"datum.value==1000","value":-25},{"test":"datum.value==100","value":-14}],"value":-11},"labels":false,"title":null}},"y":{"datum":1,"type":"quantitative","scale":{"type":"log","domain":[0.08,6],"nice":false},"axis":{"orient":"right","values":[0.09,0.1,0.2,0.3,0.4,0.5,0.6,0.7,0.8,0.9,1,2,3,4,5],"tickSize":{"condition":{"test":"datum.value==0.1||datum.value==1","value":-27},"value":-12},"labels":false,"title":null}}}}
]},
{"width":298,"height":316.5,"resolve":{"axis":{"x":"independent","y":"independent"}},"layer":[
 {"layer":[
  {"data":{"name":"curves"},"transform":[{"filter":"datum.p=='19.2'"}],"mark":{"type":"line","clip":true,"interpolate":"monotone","strokeWidth":2.7},
   "encoding":{"x":{"field":"t","type":"quantitative","scale":{"type":"log","domain":[20,2000],"nice":false},"axis":{"orient":"bottom","values":[30,40,50,60,70,80,90,100,200,300,400,500,600,700,800,900,1000],"tickSize":{"condition":{"test":"datum.value==100||datum.value==1000","value":-25},"value":-11},"labels":false,"title":null}},
   "y":{"field":"f","type":"quantitative","scale":{"type":"log","domain":[0.08,6],"nice":false},"axis":{"orient":"left","values":[0.09,0.1,0.2,0.3,0.4,0.5,0.6,0.7,0.8,0.9,1,2,3,4,5],"tickSize":{"condition":{"test":"datum.value==0.1||datum.value==1","value":-26},"value":-12},"labels":false,"title":null}},
   "color":{"field":"m","type":"nominal","scale":{"domain":["FFA","SSA","inhomo-SSA"],"range":["#128a12","#ff0000","#0000ff"]}}}},
  {"data":{"name":"pts"},"transform":[{"filter":"datum.p=='19.2' && datum.lo!=null"}],"mark":{"type":"rule","color":"black","strokeWidth":2},
   "encoding":{"x":{"field":"t","type":"quantitative","scale":{"type":"log","domain":[20,2000],"nice":false}},"y":{"field":"lo","type":"quantitative","scale":{"type":"log","domain":[0.08,6],"nice":false}},"y2":{"field":"hi"}}},
  {"data":{"name":"pts"},"transform":[{"filter":"datum.p=='19.2' && datum.lo!=null"},{"fold":["lo","hi"],"as":["k","v"]}],"mark":{"type":"point","shape":"stroke","size":625,"stroke":"black","strokeWidth":2,"opacity":1},
   "encoding":{"x":{"field":"t","type":"quantitative","scale":{"type":"log","domain":[20,2000],"nice":false}},"y":{"field":"v","type":"quantitative","scale":{"type":"log","domain":[0.08,6],"nice":false}}}},
  {"data":{"name":"pts"},"transform":[{"filter":"datum.p=='19.2'"}],"mark":{"type":"point","filled":true,"fill":"#00e5ee","stroke":"black","strokeWidth":1.5,"opacity":1},
   "encoding":{"x":{"field":"t","type":"quantitative","scale":{"type":"log","domain":[20,2000],"nice":false}},"y":{"field":"f","type":"quantitative","scale":{"type":"log","domain":[0.08,6],"nice":false}},"shape":{"field":"inst","type":"nominal","scale":{"domain":["GMRT","VLA"],"range":["circle","diamond"]},"legend":null},"size":{"field":"inst","type":"ordinal","scale":{"domain":["GMRT","VLA"],"range":[290,380]},"legend":null}}},
  {"data":{"values":[{}]},"mark":{"type":"text","text":"19.2 GHz","align":"right","baseline":"alphabetic","fontSize":26,"color":"black"},
   "encoding":{"x":{"datum":1358,"type":"quantitative","scale":{"type":"log","domain":[20,2000],"nice":false}},"y":{"datum":3.03,"type":"quantitative","scale":{"type":"log","domain":[0.08,6],"nice":false}}}}
 ]},
 {"data":{"values":[{}]},"mark":{"type":"point","opacity":0},"encoding":{"x":{"datum":100,"type":"quantitative","scale":{"type":"log","domain":[20,2000],"nice":false},"axis":{"orient":"top","values":[30,40,50,60,70,80,90,100,200,300,400,500,600,700,800,900,1000],"tickSize":{"condition":[{"test":"datum.value==1000","value":-25},{"test":"datum.value==100","value":-14}],"value":-11},"labels":false,"title":null}},"y":{"datum":1,"type":"quantitative","scale":{"type":"log","domain":[0.08,6],"nice":false},"axis":{"orient":"right","values":[0.09,0.1,0.2,0.3,0.4,0.5,0.6,0.7,0.8,0.9,1,2,3,4,5],"tickSize":{"condition":{"test":"datum.value==0.1||datum.value==1","value":-27},"value":-12},"labels":false,"title":null}}}}
]},
{"width":298,"height":316.5,"resolve":{"axis":{"x":"independent","y":"independent"}},"layer":[
 {"layer":[
  {"data":{"name":"curves"},"transform":[{"filter":"datum.p=='2.53'"}],"mark":{"type":"line","clip":true,"interpolate":"monotone","strokeWidth":2.7},
   "encoding":{"x":{"field":"t","type":"quantitative","scale":{"type":"log","domain":[20,2000],"nice":false},"axis":{"orient":"bottom","values":[30,40,50,60,70,80,90,100,200,300,400,500,600,700,800,900,1000],"tickSize":{"condition":{"test":"datum.value==100||datum.value==1000","value":-25},"value":-11},"labels":true,"labelExpr":"datum.value==100?'100':datum.value==1000?'1000':''","labelPadding":37,"title":null}},
   "y":{"field":"f","type":"quantitative","scale":{"type":"log","domain":[0.08,6],"nice":false},"axis":{"orient":"left","values":[0.09,0.1,0.2,0.3,0.4,0.5,0.6,0.7,0.8,0.9,1,2,3,4,5],"tickSize":{"condition":{"test":"datum.value==0.1||datum.value==1","value":-26},"value":-12},"labels":true,"labelExpr":"datum.value==1?'1':datum.value==0.1?'0.1':''","labelPadding":34,"title":null}},
   "color":{"field":"m","type":"nominal","scale":{"domain":["FFA","SSA","inhomo-SSA"],"range":["#128a12","#ff0000","#0000ff"]}}}},
  {"data":{"name":"pts"},"transform":[{"filter":"datum.p=='2.53' && datum.lo!=null"}],"mark":{"type":"rule","color":"black","strokeWidth":2},
   "encoding":{"x":{"field":"t","type":"quantitative","scale":{"type":"log","domain":[20,2000],"nice":false}},"y":{"field":"lo","type":"quantitative","scale":{"type":"log","domain":[0.08,6],"nice":false}},"y2":{"field":"hi"}}},
  {"data":{"name":"pts"},"transform":[{"filter":"datum.p=='2.53' && datum.lo!=null"},{"fold":["lo","hi"],"as":["k","v"]}],"mark":{"type":"point","shape":"stroke","size":625,"stroke":"black","strokeWidth":2,"opacity":1},
   "encoding":{"x":{"field":"t","type":"quantitative","scale":{"type":"log","domain":[20,2000],"nice":false}},"y":{"field":"v","type":"quantitative","scale":{"type":"log","domain":[0.08,6],"nice":false}}}},
  {"data":{"name":"pts"},"transform":[{"filter":"datum.p=='2.53'"}],"mark":{"type":"point","filled":true,"fill":"#bc8f8f","stroke":"black","strokeWidth":1.5,"opacity":1},
   "encoding":{"x":{"field":"t","type":"quantitative","scale":{"type":"log","domain":[20,2000],"nice":false}},"y":{"field":"f","type":"quantitative","scale":{"type":"log","domain":[0.08,6],"nice":false}},"shape":{"field":"inst","type":"nominal","scale":{"domain":["GMRT","VLA"],"range":["circle","diamond"]},"legend":null},"size":{"field":"inst","type":"ordinal","scale":{"domain":["GMRT","VLA"],"range":[290,380]},"legend":null}}},
  {"data":{"values":[{}]},"mark":{"type":"text","text":"2.53 GHz","align":"left","baseline":"alphabetic","fontSize":26,"color":"black"},
   "encoding":{"x":{"datum":32.7,"type":"quantitative","scale":{"type":"log","domain":[20,2000],"nice":false}},"y":{"datum":3.66,"type":"quantitative","scale":{"type":"log","domain":[0.08,6],"nice":false}}}}
 ]},
 {"data":{"values":[{}]},"mark":{"type":"point","opacity":0},"encoding":{"x":{"datum":100,"type":"quantitative","scale":{"type":"log","domain":[20,2000],"nice":false},"axis":{"orient":"top","values":[30,40,50,60,70,80,90,100,200,300,400,500,600,700,800,900,1000],"tickSize":{"condition":[{"test":"datum.value==1000","value":-25},{"test":"datum.value==100","value":-14}],"value":-11},"labels":false,"title":null}},"y":{"datum":1,"type":"quantitative","scale":{"type":"log","domain":[0.08,6],"nice":false},"axis":{"orient":"right","values":[0.09,0.1,0.2,0.3,0.4,0.5,0.6,0.7,0.8,0.9,1,2,3,4,5],"tickSize":{"condition":{"test":"datum.value==0.1||datum.value==1","value":-27},"value":-12},"labels":false,"title":null}}}}
]},
{"width":298,"height":316.5,"resolve":{"axis":{"x":"independent","y":"independent"}},"layer":[
 {"layer":[
  {"data":{"name":"curves"},"transform":[{"filter":"datum.p=='11.0'"}],"mark":{"type":"line","clip":true,"interpolate":"monotone","strokeWidth":2.7},
   "encoding":{"x":{"field":"t","type":"quantitative","scale":{"type":"log","domain":[20,2000],"nice":false},"axis":{"orient":"bottom","values":[30,40,50,60,70,80,90,100,200,300,400,500,600,700,800,900,1000],"tickSize":{"condition":{"test":"datum.value==100||datum.value==1000","value":-25},"value":-11},"labels":true,"labelExpr":"datum.value==100?'100':datum.value==1000?'1000':''","labelPadding":37,"title":"Days since explosion","titleX":143,"titleY":100,"titleAlign":"center","titleBaseline":"alphabetic","titleAngle":0}},
   "y":{"field":"f","type":"quantitative","scale":{"type":"log","domain":[0.08,6],"nice":false},"axis":{"orient":"left","values":[0.09,0.1,0.2,0.3,0.4,0.5,0.6,0.7,0.8,0.9,1,2,3,4,5],"tickSize":{"condition":{"test":"datum.value==0.1||datum.value==1","value":-26},"value":-12},"labels":false,"title":null}},
   "color":{"field":"m","type":"nominal","scale":{"domain":["FFA","SSA","inhomo-SSA"],"range":["#128a12","#ff0000","#0000ff"]}}}},
  {"data":{"name":"pts"},"transform":[{"filter":"datum.p=='11.0' && datum.lo!=null"}],"mark":{"type":"rule","color":"black","strokeWidth":2},
   "encoding":{"x":{"field":"t","type":"quantitative","scale":{"type":"log","domain":[20,2000],"nice":false}},"y":{"field":"lo","type":"quantitative","scale":{"type":"log","domain":[0.08,6],"nice":false}},"y2":{"field":"hi"}}},
  {"data":{"name":"pts"},"transform":[{"filter":"datum.p=='11.0' && datum.lo!=null"},{"fold":["lo","hi"],"as":["k","v"]}],"mark":{"type":"point","shape":"stroke","size":625,"stroke":"black","strokeWidth":2,"opacity":1},
   "encoding":{"x":{"field":"t","type":"quantitative","scale":{"type":"log","domain":[20,2000],"nice":false}},"y":{"field":"v","type":"quantitative","scale":{"type":"log","domain":[0.08,6],"nice":false}}}},
  {"data":{"name":"pts"},"transform":[{"filter":"datum.p=='11.0'"}],"mark":{"type":"point","filled":true,"fill":"#4020c0","stroke":"black","strokeWidth":1.5,"opacity":1},
   "encoding":{"x":{"field":"t","type":"quantitative","scale":{"type":"log","domain":[20,2000],"nice":false}},"y":{"field":"f","type":"quantitative","scale":{"type":"log","domain":[0.08,6],"nice":false}},"shape":{"field":"inst","type":"nominal","scale":{"domain":["GMRT","VLA"],"range":["circle","diamond"]},"legend":null},"size":{"field":"inst","type":"ordinal","scale":{"domain":["GMRT","VLA"],"range":[290,380]},"legend":null}}},
  {"data":{"values":[{}]},"mark":{"type":"text","text":"11.0 GHz","align":"right","baseline":"alphabetic","fontSize":26,"color":"black"},
   "encoding":{"x":{"datum":1276,"type":"quantitative","scale":{"type":"log","domain":[20,2000],"nice":false}},"y":{"datum":3.18,"type":"quantitative","scale":{"type":"log","domain":[0.08,6],"nice":false}}}}
 ]},
 {"data":{"values":[{}]},"mark":{"type":"point","opacity":0},"encoding":{"x":{"datum":100,"type":"quantitative","scale":{"type":"log","domain":[20,2000],"nice":false},"axis":{"orient":"top","values":[30,40,50,60,70,80,90,100,200,300,400,500,600,700,800,900,1000],"tickSize":{"condition":[{"test":"datum.value==1000","value":-25},{"test":"datum.value==100","value":-14}],"value":-11},"labels":false,"title":null}},"y":{"datum":1,"type":"quantitative","scale":{"type":"log","domain":[0.08,6],"nice":false},"axis":{"orient":"right","values":[0.09,0.1,0.2,0.3,0.4,0.5,0.6,0.7,0.8,0.9,1,2,3,4,5],"tickSize":{"condition":{"test":"datum.value==0.1||datum.value==1","value":-27},"value":-12},"labels":false,"title":null}}}}
]},
{"width":298,"height":316.5,"resolve":{"axis":{"x":"independent","y":"independent"}},"layer":[
 {"layer":[
  {"data":{"name":"curves"},"transform":[{"filter":"datum.p=='24.5'"}],"mark":{"type":"line","clip":true,"interpolate":"monotone","strokeWidth":2.7},
   "encoding":{"x":{"field":"t","type":"quantitative","scale":{"type":"log","domain":[20,2000],"nice":false},"axis":{"orient":"bottom","values":[30,40,50,60,70,80,90,100,200,300,400,500,600,700,800,900,1000],"tickSize":{"condition":{"test":"datum.value==100||datum.value==1000","value":-25},"value":-11},"labels":true,"labelExpr":"datum.value==100?'100':datum.value==1000?'1000':''","labelPadding":37,"title":null}},
   "y":{"field":"f","type":"quantitative","scale":{"type":"log","domain":[0.08,6],"nice":false},"axis":{"orient":"left","values":[0.09,0.1,0.2,0.3,0.4,0.5,0.6,0.7,0.8,0.9,1,2,3,4,5],"tickSize":{"condition":{"test":"datum.value==0.1||datum.value==1","value":-26},"value":-12},"labels":false,"title":null}},
   "color":{"field":"m","type":"nominal","scale":{"domain":["FFA","SSA","inhomo-SSA"],"range":["#128a12","#ff0000","#0000ff"]}}}},
  {"data":{"name":"pts"},"transform":[{"filter":"datum.p=='24.5' && datum.lo!=null"}],"mark":{"type":"rule","color":"black","strokeWidth":2},
   "encoding":{"x":{"field":"t","type":"quantitative","scale":{"type":"log","domain":[20,2000],"nice":false}},"y":{"field":"lo","type":"quantitative","scale":{"type":"log","domain":[0.08,6],"nice":false}},"y2":{"field":"hi"}}},
  {"data":{"name":"pts"},"transform":[{"filter":"datum.p=='24.5' && datum.lo!=null"},{"fold":["lo","hi"],"as":["k","v"]}],"mark":{"type":"point","shape":"stroke","size":625,"stroke":"black","strokeWidth":2,"opacity":1},
   "encoding":{"x":{"field":"t","type":"quantitative","scale":{"type":"log","domain":[20,2000],"nice":false}},"y":{"field":"v","type":"quantitative","scale":{"type":"log","domain":[0.08,6],"nice":false}}}},
  {"data":{"name":"pts"},"transform":[{"filter":"datum.p=='24.5'"}],"mark":{"type":"point","filled":true,"fill":"#7a1faf","stroke":"black","strokeWidth":1.5,"opacity":1},
   "encoding":{"x":{"field":"t","type":"quantitative","scale":{"type":"log","domain":[20,2000],"nice":false}},"y":{"field":"f","type":"quantitative","scale":{"type":"log","domain":[0.08,6],"nice":false}},"shape":{"field":"inst","type":"nominal","scale":{"domain":["GMRT","VLA"],"range":["circle","diamond"]},"legend":null},"size":{"field":"inst","type":"ordinal","scale":{"domain":["GMRT","VLA"],"range":[290,380]},"legend":null}}},
  {"data":{"values":[{}]},"mark":{"type":"text","text":"24.5 GHz","align":"right","baseline":"alphabetic","fontSize":26,"color":"black"},
   "encoding":{"x":{"datum":1164,"type":"quantitative","scale":{"type":"log","domain":[20,2000],"nice":false}},"y":{"datum":3.01,"type":"quantitative","scale":{"type":"log","domain":[0.08,6],"nice":false}}}}
 ]},
 {"data":{"values":[{}]},"mark":{"type":"point","opacity":0},"encoding":{"x":{"datum":100,"type":"quantitative","scale":{"type":"log","domain":[20,2000],"nice":false},"axis":{"orient":"top","values":[30,40,50,60,70,80,90,100,200,300,400,500,600,700,800,900,1000],"tickSize":{"condition":[{"test":"datum.value==1000","value":-25},{"test":"datum.value==100","value":-14}],"value":-11},"labels":false,"title":null}},"y":{"datum":1,"type":"quantitative","scale":{"type":"log","domain":[0.08,6],"nice":false},"axis":{"orient":"right","values":[0.09,0.1,0.2,0.3,0.4,0.5,0.6,0.7,0.8,0.9,1,2,3,4,5],"tickSize":{"condition":{"test":"datum.value==0.1||datum.value==1","value":-27},"value":-12},"labels":false,"title":null}}}}
]}
]
}
